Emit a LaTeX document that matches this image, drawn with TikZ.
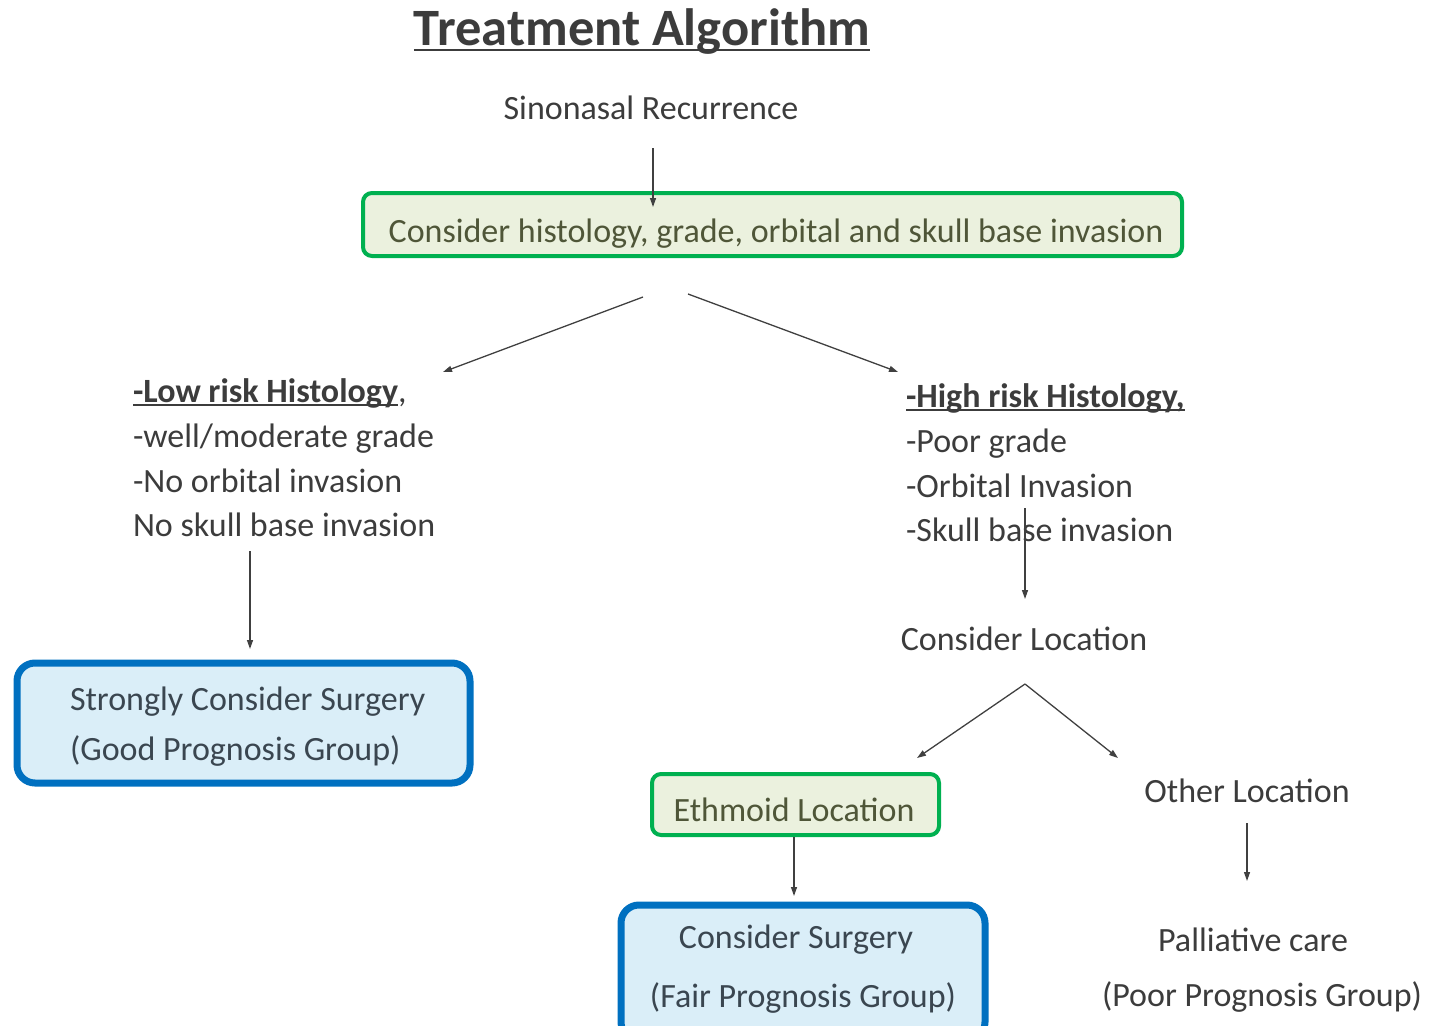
\documentclass[tikz,border=0pt]{standalone}
\usepackage{fontspec}
\setmainfont{Carlito}
\usetikzlibrary{arrows.meta}
\definecolor{txt}{HTML}{3C3C3C}
\definecolor{gbord}{HTML}{00B050}
\definecolor{gfill}{HTML}{EBF1DE}
\definecolor{gtxt}{HTML}{4F5638}
\definecolor{bbord}{HTML}{0070C0}
\definecolor{bfill}{HTML}{DAEEF8}
\definecolor{btxt}{HTML}{3A4650}
\definecolor{arr}{HTML}{404040}
\newcommand\myul[2][3pt]{\setbox0\hbox{#2}\rlap{\raisebox{-#1}{\rule{\wd0}{2pt}}}\box0}
\begin{document}
\begin{tikzpicture}[x=1pt,y=-1pt,
  every node/.style={inner sep=0pt,outer sep=0pt,text=txt},
  plain/.style={font=\fontsize{34}{45}\selectfont},
  blk/.style={font=\fontsize{34}{44.7}\selectfont,align=left,anchor=north west},
  gbox/.style={draw=gbord,line width=4pt,fill=gfill,rounded corners=9pt},
  bbox/.style={draw=bbord,line width=7pt,fill=bfill,rounded corners=18pt},
  conn/.style={draw=arr,line width=1.3pt,-{Triangle[length=9pt,width=6pt]}}]
\useasboundingbox (0,0) rectangle (1431,1025);
% title
\node (title) at (642,32) {\fontsize{52.5}{60}\selectfont\bfseries\myul[5pt]{Treatment Algorithm}};
\node[plain] (rec) at (651,108) {Sinonasal Recurrence};
% green box 1
\path[gbox] (363,193) rectangle (1182,256);
\node[plain,text=gtxt] (cons) at (776,234) {Consider histology, grade, orbital and skull base invasion};
% left block
\node[blk] (low) at (133,379) {\textbf{\myul{-Low risk Histology}},\\-well/moderate grade\\-No orbital invasion\\No skull base invasion};
% right block
\node[blk] (high) at (906,384) {\textbf{\myul{-High risk Histology,}}\\-Poor grade\\-Orbital Invasion\\-Skull base invasion};
% blue box left
\path[bbox] (17,663) rectangle (470,783);
\node[plain,text=btxt,align=left,anchor=north west,font=\fontsize{34}{50}\selectfont] (strong) at (70,687) {Strongly Consider Surgery\\(Good Prognosis Group)};
\node[plain] (loc) at (1024,639) {Consider Location};
% ethmoid
\path[gbox] (652,774) rectangle (939,835);
\node[plain,text=gtxt] (eth) at (794,810) {Ethmoid Location};
\node[plain] (other) at (1247,791) {Other Location};
% blue box bottom
\path[bbox] (621,905) rectangle (985,1040);
\node[plain,text=btxt] (cs) at (796,940) {Consider Surgery};
\node[plain,text=btxt] (fair) at (803,998) {(Fair Prognosis Group)};
\node[plain] (pall) at (1253,940) {Palliative care};
\node[plain] (poor) at (1262,997) {(Poor Prognosis Group)};
% connectors
\draw[conn] (653,148) -- (653,207);
\draw[conn] (643,297) -- (443,372);
\draw[conn] (688,294) -- (898,372);
\draw[conn] (250,551) -- (250,649);
\draw[conn] (1025,508) -- (1025,599);
\draw[conn] (1025,684) -- (917,758);
\draw[conn] (1025,684) -- (1118,758);
\draw[conn] (794,837) -- (794,896);
\draw[conn] (1247,823) -- (1247,881);
\end{tikzpicture}
\end{document}
